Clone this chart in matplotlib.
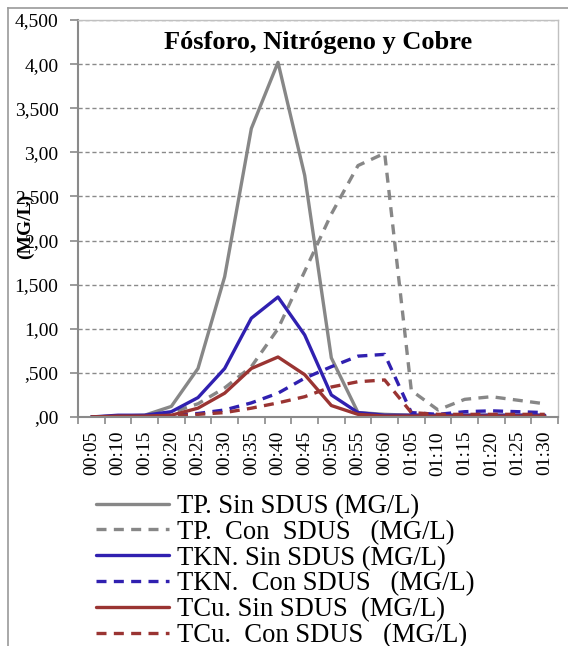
import matplotlib
matplotlib.use("Agg")
import matplotlib.pyplot as plt
from matplotlib.lines import Line2D
import numpy as np

plt.rcParams['font.family'] = ['Liberation Serif', 'DejaVu Serif']

tiempos = ['00:05', '00:10', '00:15', '00:20', '00:25', '00:30', '00:35', '00:40', '00:45',
           '00:50', '00:55', '00:60', '01:05', '01:10', '01:15', '01:20', '01:25', '01:30']

tp_sin = [0.0, 0.01, 0.02, 0.12, 0.55, 1.59, 3.27, 4.02, 2.74, 0.67, 0.05, 0.03, 0.02, 0.02, 0.02, 0.02, 0.02, 0.02]
tp_con = [0.0, 0.0, 0.01, 0.05, 0.15, 0.33, 0.57, 1.0, 1.65, 2.3, 2.85, 2.99, 0.3, 0.08, 0.2, 0.23, 0.19, 0.15]
tkn_sin = [0.0, 0.02, 0.02, 0.06, 0.22, 0.55, 1.12, 1.36, 0.93, 0.25, 0.05, 0.02, 0.02, 0.02, 0.02, 0.02, 0.02, 0.02]
tkn_con = [0.0, 0.0, 0.01, 0.02, 0.04, 0.08, 0.16, 0.27, 0.44, 0.57, 0.69, 0.71, 0.05, 0.03, 0.06, 0.07, 0.06, 0.05]
tcu_sin = [0.0, 0.01, 0.01, 0.02, 0.1, 0.27, 0.55, 0.68, 0.48, 0.13, 0.03, 0.01, 0.01, 0.01, 0.01, 0.01, 0.01, 0.01]
tcu_con = [0.0, 0.0, 0.0, 0.01, 0.03, 0.05, 0.1, 0.16, 0.23, 0.34, 0.4, 0.42, 0.05, 0.03, 0.03, 0.03, 0.03, 0.03]

etiquetas = ['TP. Sin SDUS (MG/L)', 'TP.  Con  SDUS   (MG/L)', 'TKN. Sin SDUS (MG/L)',
             'TKN.  Con SDUS   (MG/L)', 'TCu. Sin SDUS  (MG/L)', 'TCu.  Con SDUS   (MG/L)']
yticks = [0, 0.5, 1.0, 1.5, 2.0, 2.5, 3.0, 3.5, 4.0, 4.5]
ylabels = [',00', ',500', '1,00', '1,500', '2,00', '2,500', '3,00', '3,500', '4,00', '4,500']

gris = '#878787'
azul = '#3020B0'
rojo = '#9A3432'

fig = plt.figure(figsize=(5.68, 6.46), dpi=100)
ax = fig.add_axes([78/568, 1-417/646, 480/568, 397/646])

x = np.arange(len(tiempos))
series = [(tp_sin, gris, '-'), (tp_con, gris, '--'), (tkn_sin, azul, '-'),
          (tkn_con, azul, '--'), (tcu_sin, rojo, '-'), (tcu_con, rojo, '--')]
for (vals, c, ls), lab in zip(series, etiquetas):
    ax.plot(x, vals, color=c, linestyle=ls, linewidth=2.4, label=lab,
            dashes=(3, 2.2) if ls == '--' else (None, None), solid_capstyle='round')

ax.set_xlim(-0.5, len(tiempos) - 0.5)
ax.set_ylim(0, 4.5)
ax.set_yticks(yticks)
ax.set_yticklabels(ylabels, fontsize=14)
ax.set_xticks(x)
ax.set_xticklabels(tiempos, rotation=90, fontsize=14)
ax.set_xticks(np.arange(-0.5, len(tiempos)), minor=True)
ax.tick_params(axis='x', which='major', length=0, pad=10)
ax.tick_params(axis='x', which='minor', length=5, color='#8a8a8a', width=1.2)
ax.tick_params(axis='y', length=6, color='#8a8a8a', width=1.2, pad=8)
ax.grid(axis='y', color='#8a8a8a', linestyle=(0, (3, 2)), linewidth=1)
ax.set_axisbelow(True)

for s in ['top', 'right']:
    ax.spines[s].set_color('#c0c0c0')
    ax.spines[s].set_linewidth(1)
for s in ['left', 'bottom']:
    ax.spines[s].set_color('#8a8a8a')
    ax.spines[s].set_linewidth(1.5)

ax.text(0.5, (417-42)/397, 'Fósforo, Nitrógeno y Cobre', transform=ax.transAxes,
        ha='center', va='center', fontsize=19, fontweight='bold')
fig.text(25/568, 1-226/646, '(MG/L)', rotation=90, ha='center', va='center',
         fontsize=14, fontweight='bold')

leg = fig.legend(loc='upper left', bbox_to_anchor=(96/568, 1-494/646), frameon=False,
                 fontsize=19.2, labelspacing=0.03, handlelength=2.75, handletextpad=0.3,
                 borderpad=0, borderaxespad=0)

# marco exterior recortado
fig.add_artist(Line2D([7.5/568, 7.5/568], [0, 1-8/646], color='#9a9a9a', linewidth=1.2))
fig.add_artist(Line2D([7.5/568, 1], [1-8/646, 1-8/646], color='#9a9a9a', linewidth=1.2))

fig.savefig('out.png', dpi=100)
